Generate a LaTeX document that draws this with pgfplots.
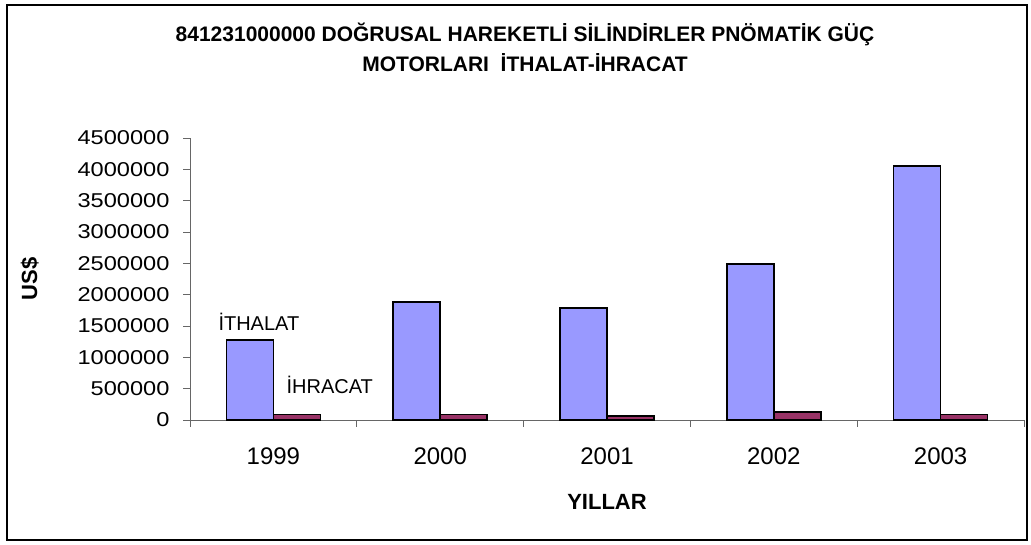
\documentclass[border=0pt]{standalone}
\usepackage{fontspec}
\setmainfont{Liberation Sans}
\newfontfamily\widefont[FakeStretch=1.18]{Liberation Sans}
\usepackage{pgfplots}
\pgfplotsset{compat=1.18}
\definecolor{ith}{HTML}{9999FF}
\definecolor{ihr}{HTML}{993366}
\begin{document}
\begin{tikzpicture}[x=1bp,y=1bp]
\path[use as bounding box] (0,0) rectangle (1031,545);
\draw[line width=1.2bp] (7,5) rectangle (1027,540);
\node[font=\bfseries\fontsize{21bp}{30bp}\selectfont, align=center] at (525,498)
  {841231000000 DOĞRUSAL HAREKETLİ SİLİNDİRLER PNÖMATİK GÜÇ\\MOTORLARI\ \ İTHALAT-İHRACAT};
\begin{axis}[
  at={(190bp,125bp)}, anchor=south west,
  scale only axis, width=834bp, height=282bp,
  xmin=-0.5, xmax=4.5, ymin=0, ymax=4500000,
  axis x line=bottom, axis y line=left,
  axis line style={draw=gray!80!black, -},
  xtick={-0.5,0.5,...,4.5}, x tick label as interval,
  xticklabels={1999,2000,2001,2002,2003},
  ytick={0,500000,...,4500000},
  scaled y ticks=false,
  yticklabel={\pgfmathprintnumber[fixed,precision=0,1000 sep={}]{\tick}},
  /pgf/number format/assume math mode=true,
  tick align=outside, major tick length=7bp,
  tick style={draw=gray!80!black, line width=0.8bp},
  yticklabel style={font=\widefont\fontsize{20bp}{24bp}\selectfont, xshift=-10bp},
  xticklabel style={font=\fontsize{24bp}{28bp}\selectfont, yshift=-17bp},
  xlabel={YILLAR}, ylabel={US\$},
  label style={font=\bfseries\fontsize{22bp}{24bp}\selectfont},
  xlabel style={at={(axis description cs:0.5,-0.29)}, anchor=center},
  ylabel style={at={(axis description cs:-0.192,0.5)}, anchor=center, rotate=0},
  ybar=0pt, bar width=47bp,
  clip=false,
]
\addplot[fill=ith, draw=black, line width=1.5bp] coordinates {(0,1275000) (1,1880000) (2,1790000) (3,2490000) (4,4050000)};
\addplot[fill=ihr, draw=black, line width=1.5bp] coordinates {(0,90000) (1,90000) (2,60000) (3,130000) (4,90000)};
\node[font=\fontsize{20bp}{22bp}\selectfont] at (axis cs:-0.087,1564000) {İTHALAT};
\node[font=\fontsize{20bp}{22bp}\selectfont] at (axis cs:0.338,558000) {İHRACAT};
\end{axis}
\end{tikzpicture}
\end{document}
